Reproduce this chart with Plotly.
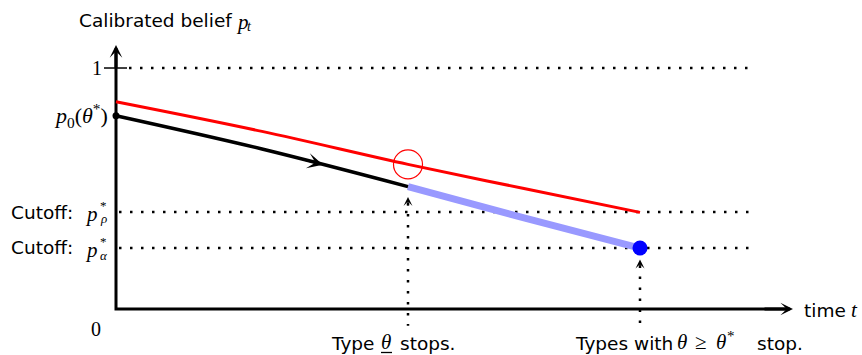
import numpy as np
import plotly.graph_objects as go

# ---- data (time t, calibrated belief p) ----
red_t = [0.0, 1.46, 2.92, 4.08, 5.24]
red_p = [0.860, 0.737, 0.600, 0.500, 0.401]

black_t = [0.0, 1.46, 2.92]
black_p = [0.802, 0.664, 0.508]

blue_t = [2.92, 4.08, 5.24]
blue_p = [0.508, 0.378, 0.253]

p0 = 0.802          # p_0(theta*)
p_rho = 0.403       # cutoff p*_rho
p_alpha = 0.253     # cutoff p*_alpha
t_low = 2.92        # type theta_low stops
t_star = 5.24       # types with theta >= theta* stop
t_max = 6.77        # end of time axis
p_max = 1.095       # end of belief axis

SANS = "DejaVu Sans"
SERIF = "Liberation Serif"
W, H = 862, 355

fig = go.Figure()

# dotted guide lines
dot = dict(color="black", width=2.5, dash="2.5px,8.5px")
for y0, xs in [(1.0, (0.13, 6.38)), (p_rho, (0.03, 6.36)), (p_alpha, (0.03, 6.36))]:
    fig.add_trace(go.Scatter(x=list(xs), y=[y0, y0], mode="lines", line=dot, hoverinfo="skip"))
fig.add_trace(go.Scatter(x=[t_low, t_low], y=[0.44, -0.07], mode="lines", line=dot, hoverinfo="skip"))
fig.add_trace(go.Scatter(x=[t_star, t_star], y=[0.18, -0.07], mode="lines", line=dot, hoverinfo="skip"))

# axes
fig.add_trace(go.Scatter(x=[0, 0, t_max - 0.05], y=[p_max - 0.02, 0, 0], mode="lines",
                         line=dict(color="black", width=3), hoverinfo="skip"))
# tick at 1
fig.add_trace(go.Scatter(x=[-0.12, 0.11], y=[1.0, 1.0], mode="lines",
                         line=dict(color="black", width=1.5), hoverinfo="skip"))

# curves
fig.add_trace(go.Scatter(x=red_t, y=red_p, mode="lines", line=dict(color="#ff0000", width=3, shape="spline"),
                         hoverinfo="skip"))
fig.add_trace(go.Scatter(x=blue_t, y=blue_p, mode="lines", line=dict(color="#9999ff", width=7, shape="spline"),
                         hoverinfo="skip"))
fig.add_trace(go.Scatter(x=black_t, y=black_p, mode="lines", line=dict(color="black", width=3.5, shape="spline"),
                         hoverinfo="skip"))

# markers
fig.add_trace(go.Scatter(x=[0], y=[p0], mode="markers", marker=dict(color="black", size=7), hoverinfo="skip"))
fig.add_trace(go.Scatter(x=[t_star], y=[p_alpha], mode="markers", marker=dict(color="#0000ff", size=15),
                         hoverinfo="skip"))
fig.add_trace(go.Scatter(x=[t_low], y=[float(np.interp(t_low, red_t, red_p))], mode="markers",
                         marker=dict(symbol="circle-open", color="#ff0000", size=29, line=dict(width=1.2)),
                         hoverinfo="skip"))

ann = []
# axis arrowheads
ann.append(dict(x=t_max, y=0, ax=t_max - 0.3, ay=0, xref="x", yref="y", axref="x", ayref="y",
                showarrow=True, arrowhead=3, arrowwidth=3, arrowsize=0.7, arrowcolor="black", text=""))
ann.append(dict(x=0, y=p_max, ax=0, ay=p_max - 0.1, xref="x", yref="y", axref="x", ayref="y",
                showarrow=True, arrowhead=3, arrowwidth=3, arrowsize=0.7, arrowcolor="black", text=""))
# arrow on black curve
ta, tb = 1.85, 2.07
ann.append(dict(x=tb, y=float(np.interp(tb, black_t, black_p)), ax=ta, ay=float(np.interp(ta, black_t, black_p)),
                xref="x", yref="y", axref="x", ayref="y",
                showarrow=True, arrowhead=3, arrowwidth=2, arrowsize=1.3, arrowcolor="black", text=""))
# vertical dotted arrowheads
for tt, tip in [(t_low, 0.465), (t_star, 0.205)]:
    ann.append(dict(x=tt, y=tip, ax=0, ay=10, xref="x", yref="y", showarrow=True, arrowhead=3,
                    arrowwidth=1.5, arrowsize=1.0, arrowcolor="black", text=""))


def txt(px, py, text, xanchor="left", size=18.5, family=SANS):
    """place a text at pixel position (px, py) of the figure"""
    ann.append(dict(x=px / W, y=1 - py / H, xref="paper", yref="paper", text=text, showarrow=False,
                    xanchor=xanchor, yanchor="middle", font=dict(family=family, size=size, color="black")))


# title of belief axis
txt(77, 20, "Calibrated belief")
txt(234, 22, "<i>p</i>", size=21, family=SERIF)
txt(245, 26, "<i>t</i>", size=14, family=SERIF)
# y labels
txt(104, 68, "1", xanchor="right", size=20, family=SERIF)
txt(110, 115, "<i>p</i><sub>0</sub>(<i>θ</i><sup>*</sup>)", xanchor="right", size=22, family=SERIF)
for py, sub in [(212, "ρ"), (248, "α")]:
    txt(75, py, "Cutoff:", xanchor="right")
    txt(83, py + 2, "<i>p</i>", size=21, family=SERIF)
    txt(98, py - 7, "*", size=13, family=SERIF)
    txt(98, py + 7, f"<i>{sub}</i>", size=13, family=SERIF)
txt(96, 329, "0", xanchor="center", size=20, family=SERIF)
# time axis label
txt(802, 310, "time")
txt(849, 310, "<i>t</i>", size=21, family=SERIF)
# bottom labels
txt(329, 343, "Type")
txt(379, 342, "<i>θ</i>", size=21, family=SERIF)
txt(398, 343, "stops.")
txt(573, 343, "Types with")
txt(675, 342, "<i>θ</i>", size=21, family=SERIF)
txt(693, 342, "≥", size=21, family=SERIF)
txt(714, 342, "<i>θ</i>", size=21, family=SERIF)
txt(725, 336, "*", size=15, family=SERIF)
txt(755, 343, "stop.")

fig.update_layout(
    width=W, height=H, margin=dict(l=0, r=0, t=0, b=0),
    paper_bgcolor="white", plot_bgcolor="white", showlegend=False,
    xaxis=dict(range=[-1.16, 7.46], visible=False, fixedrange=True),
    yaxis=dict(range=[-0.1909, 1.2822], visible=False, fixedrange=True),
    annotations=ann,
    # underline of theta in "Type θ stops." (text decoration)
    shapes=[dict(type="line", xref="paper", yref="paper", x0=381 / W, x1=392 / W,
                 y0=1 - 352.5 / H, y1=1 - 352.5 / H, line=dict(color="black", width=1.3))],
)

fig.write_html("out.html", config={"displayModeBar": False},
               post_script="document.body.style.margin='0px';")
